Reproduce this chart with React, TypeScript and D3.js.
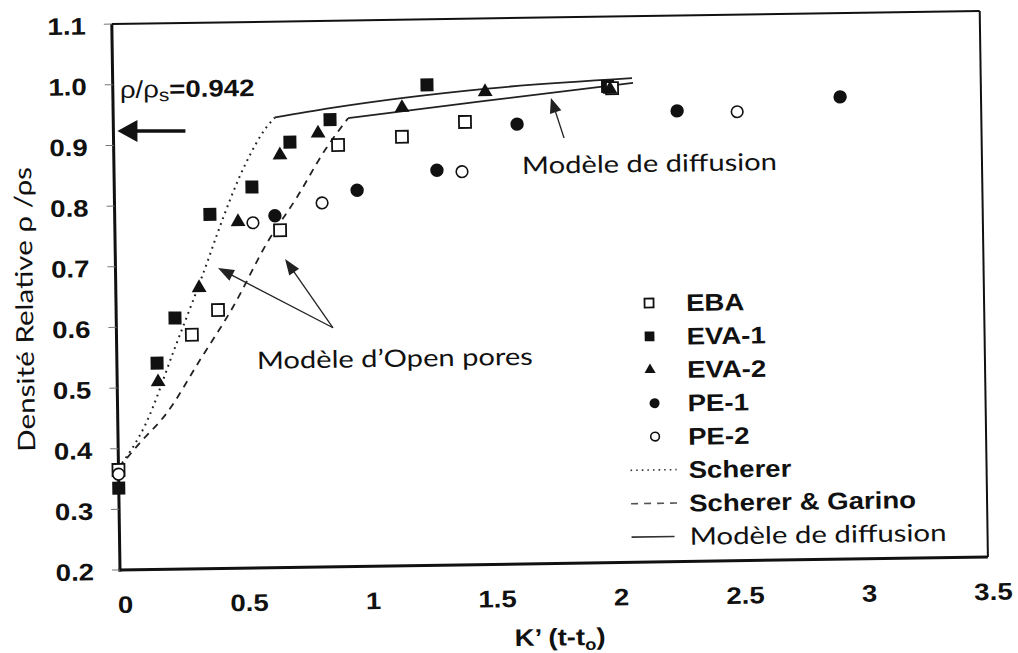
import React from 'react';
import * as d3 from 'd3';

// ---------- data ----------
const ebaX = [0, 0.304, 0.411, 0.666, 0.905, 1.163, 1.418, 2.013];
const ebaY = [0.365, 0.586, 0.626, 0.756, 0.895, 0.907, 0.93, 0.982];

const eva1X = [0, 0.162, 0.237, 0.384, 0.555, 0.711, 0.874, 1.267, 1.995];
const eva1Y = [0.335, 0.54, 0.614, 0.784, 0.828, 0.901, 0.937, 0.992, 0.985];

const eva2X = [0.165, 0.336, 0.497, 0.67, 0.825, 1.165, 1.501, 2.005];
const eva2Y = [0.509, 0.663, 0.771, 0.88, 0.915, 0.955, 0.979, 0.98];

const pe1X = [0.646, 0.979, 1.302, 1.628, 2.274, 2.932];
const pe1Y = [0.78, 0.82, 0.851, 0.925, 0.943, 0.962];

const pe2X = [0, 0.557, 0.837, 1.403, 2.516];
const pe2Y = [0.358, 0.769, 0.8, 0.848, 0.94];

const scherX = [0, 0.11, 0.235, 0.374, 0.411, 0.528, 0.619, 0.652];
const scherY = [0.368, 0.438, 0.565, 0.709, 0.75, 0.864, 0.927, 0.942];

const garinoX = [0, 0.088, 0.199, 0.335, 0.472, 0.612, 0.736, 0.852, 0.947];
const garinoY = [0.368, 0.409, 0.458, 0.544, 0.631, 0.735, 0.81, 0.887, 0.939];

const diff1X = [0.652, 0.875, 1.5, 2.094];
const diff1Y = [0.942, 0.956, 0.984, 0.998];

const diff2X = [0.947, 1.5, 2.098];
const diff2Y = [0.939, 0.964, 0.99];

const xTicks = [0, 0.5, 1, 1.5, 2, 2.5, 3, 3.5];
const xTickLabels = ['0', '0.5', '1', '1.5', '2', '2.5', '3', '3.5'];
const yTicks = [0.2, 0.3, 0.4, 0.5, 0.6, 0.7, 0.8, 0.9, 1.0, 1.1];

const legendLabels = ['EBA', 'EVA-1', 'EVA-2', 'PE-1', 'PE-2', 'Scherer', 'Scherer & Garino', 'Modèle de diffusion'];

// ---------- layout ----------
const W = 1018;
const H = 653;
const L = 120, R = 988, T = 24, B = 570;
const TILT = -0.86; // the scanned figure is slightly rotated
const ARIAL = '"Liberation Sans", Arial, sans-serif';
const CALIBRI = 'Lato, Carlito, Calibri, sans-serif';
const INK = '#111';
const SX = 1.15;

type Pt = [number, number];

function Txt(props: any) {
  const { x, y, sx = SX, children, ...rest } = props;
  return (
    <text transform={`translate(${x},${y}) scale(${sx},1)`} {...rest}>
      {children}
    </text>
  );
}

function Arrow({ from, to, len, hw, sw, color }: { from: Pt; to: Pt; len: number; hw: number; sw: number; color: string }) {
  const dx = to[0] - from[0];
  const dy = to[1] - from[1];
  const d = Math.hypot(dx, dy);
  const ux = dx / d, uy = dy / d;
  const bx = to[0] - ux * len, by = to[1] - uy * len;
  const nx = -uy, ny = ux;
  const pts = [
    [to[0], to[1]],
    [bx + nx * hw, by + ny * hw],
    [bx - nx * hw, by - ny * hw],
  ];
  return (
    <g>
      <line x1={from[0]} y1={from[1]} x2={bx + ux * 1} y2={by + uy * 1} stroke={color} strokeWidth={sw} />
      <polygon points={pts.map((p) => p.join(',')).join(' ')} fill={color} />
    </g>
  );
}

function Marker({ kind, cx, cy, s = 1 }: { kind: string; cx: number; cy: number; s?: number }) {
  if (kind === 'sqOpen') {
    const a = 12 * s;
    return <rect x={cx - a / 2} y={cy - a / 2} width={a} height={a} fill="#fff" stroke={INK} strokeWidth={1.8} />;
  }
  if (kind === 'sqFill') {
    const a = 13 * s;
    return <rect x={cx - a / 2} y={cy - a / 2} width={a} height={a} fill={INK} />;
  }
  if (kind === 'tri') {
    const p = d3.symbol(d3.symbolTriangle, 95 * s * s)();
    return <path d={p || ''} transform={`translate(${cx},${cy})`} fill={INK} />;
  }
  if (kind === 'circFill') {
    return <circle cx={cx} cy={cy} r={6.7 * s} fill={INK} />;
  }
  return <circle cx={cx} cy={cy} r={5.8 * s} fill="#fff" stroke={INK} strokeWidth={1.6} />;
}

export default function App() {
  const x = d3.scaleLinear().domain([0, 3.5]).range([L, R]);
  const y = d3.scaleLinear().domain([0.2, 1.1]).range([B, T]);
  const fmt = d3.format('.1f');

  const line = d3
    .line<[number, number]>()
    .x((d) => x(d[0]))
    .y((d) => y(d[1]))
    .curve(d3.curveMonotoneX);

  const zip = (xs: number[], ys: number[]) => xs.map((v, i) => [v, ys[i]] as [number, number]);

  const series = [
    { kind: 'sqFill', pts: zip(eva1X, eva1Y) },
    { kind: 'sqOpen', pts: zip(ebaX, ebaY) },
    { kind: 'tri', pts: zip(eva2X, eva2Y) },
    { kind: 'circFill', pts: zip(pe1X, pe1Y) },
    { kind: 'circOpen', pts: zip(pe2X, pe2Y) },
  ];

  const legendKinds = ['sqOpen', 'sqFill', 'tri', 'circFill', 'circOpen', 'dot', 'dash', 'solid'];
  const legY0 = 311;
  const legStep = 33.4;

  return (
    <svg
      width={W}
      height={H}
      viewBox={`0 0 ${W} ${H}`}
      style={{ position: 'absolute', left: 0, top: 0, background: '#fff' }}
    >
      <rect x={0} y={0} width={W} height={H} fill="#fff" />
      <g transform={`rotate(${TILT},${L},${B})`}>
        {/* frame */}
        <line x1={L} y1={T} x2={R} y2={T} stroke={INK} strokeWidth={2} />
        <line x1={R} y1={T} x2={R} y2={B} stroke={INK} strokeWidth={2} />
        <line x1={L} y1={T} x2={L} y2={B + 1.5} stroke={INK} strokeWidth={3} />
        <line x1={L - 1.5} y1={B} x2={R} y2={B} stroke={INK} strokeWidth={3} />

        {/* y ticks */}
        {yTicks.map((t) => (
          <g key={'yt' + t}>
            <line x1={L - 8} x2={L} y1={y(t)} y2={y(t)} stroke="#777" strokeWidth={1} />
            <Txt x={94} y={y(t) + 10} textAnchor="end" fontFamily={ARIAL} fontWeight="bold" fontSize={24} fill={INK}>
              {fmt(t)}
            </Txt>
          </g>
        ))}

        {/* x tick labels */}
        {xTicks.map((t, i) => (
          <Txt key={'xt' + t} x={x(t) + 5} y={613} textAnchor="middle" fontFamily={ARIAL} fontWeight="bold" fontSize={24} fill={INK}>
            {xTickLabels[i]}
          </Txt>
        ))}

        {/* axis titles */}
        <Txt x={559} y={652} textAnchor="middle" fontFamily={ARIAL} fontWeight="bold" fontSize={24} fill={INK}>
          <tspan>K’ (t-t</tspan>
          <tspan fontSize={16} dy={5}>o</tspan>
          <tspan dy={-5}>)</tspan>
        </Txt>
        <text
          transform={`translate(37,308) rotate(-90)`}
          textAnchor="middle"
          fontFamily={CALIBRI}
          fontSize={24}
          fill={INK}
          textLength={285}
          lengthAdjust="spacingAndGlyphs"
        >
          Densité Relative ρ /ρs
        </text>

        {/* model curves */}
        <path d={line(zip(scherX, scherY)) || ''} fill="none" stroke="#222" strokeWidth={2} strokeDasharray="1.8 4.5" />
        <path d={line(zip(garinoX, garinoY)) || ''} fill="none" stroke="#222" strokeWidth={1.8} strokeDasharray="7 6" />
        <path d={line(zip(diff1X, diff1Y)) || ''} fill="none" stroke="#222" strokeWidth={1.8} />
        <path d={line(zip(diff2X, diff2Y)) || ''} fill="none" stroke="#222" strokeWidth={1.8} />

        {/* data points */}
        {series.map((s) =>
          s.pts.map((p, i) => <Marker key={s.kind + i} kind={s.kind} cx={x(p[0])} cy={y(p[1])} />)
        )}

        {/* rho / rho_s annotation */}
        <Txt x={127} y={98} fontFamily={ARIAL} fontSize={24} fill={INK}>
          <tspan>ρ/ρ</tspan>
          <tspan fontSize={18} dy={4}>s</tspan>
          <tspan dy={-4} fontWeight="bold">=0.942</tspan>
        </Txt>
        <Arrow from={[192, 132]} to={[124, 131]} len={20} hw={11} sw={3.5} color={INK} />

        {/* diffusion annotation */}
        <text x={528} y={180} fontFamily={CALIBRI} fontSize={24} fill={INK} textLength={255} lengthAdjust="spacingAndGlyphs">
          Modèle de diffusion
        </text>
        <Arrow from={[570.5, 144.7]} to={[558, 104.5]} len={15} hw={6} sw={1.3} color="#222" />

        {/* open pores annotation */}
        <text x={260} y={371} fontFamily={CALIBRI} fontSize={24} fill={INK} textLength={276} lengthAdjust="spacingAndGlyphs">
          Modèle d’Open pores
        </text>
        <Arrow from={[336.6, 331]} to={[222.5, 269.5]} len={16} hw={6} sw={1.3} color="#222" />
        <Arrow from={[336.6, 331]} to={[289.7, 261.5]} len={16} hw={6} sw={1.3} color="#222" />

        {/* legend */}
        {legendLabels.map((lab, i) => {
          const cy = legY0 + i * legStep;
          const k = legendKinds[i];
          let sym: any = null;
          if (k === 'dot') sym = <line x1={632} x2={678} y1={cy} y2={cy} stroke="#333" strokeWidth={1.6} strokeDasharray="1.6 4" />;
          else if (k === 'dash') sym = <line x1={632} x2={678} y1={cy} y2={cy} stroke="#555" strokeWidth={1.6} strokeDasharray="7 6" />;
          else if (k === 'solid') sym = <line x1={632} x2={675} y1={cy} y2={cy} stroke="#333" strokeWidth={1.6} />;
          else sym = <Marker kind={k} cx={k.startsWith('circ') ? 657 : 653} cy={cy} s={0.75} />;
          const last = i === legendLabels.length - 1;
          return (
            <g key={'lg' + i}>
              {sym}
              {last ? (
                <text x={690} y={cy + 8.6} fontFamily={CALIBRI} fontSize={24} fill={INK} textLength={257} lengthAdjust="spacingAndGlyphs">
                  {lab}
                </text>
              ) : (
                <Txt x={690} y={cy + 8.6} fontFamily={ARIAL} fontWeight="bold" fontSize={24} fill={INK}>
                  {lab}
                </Txt>
              )}
            </g>
          );
        })}
      </g>
    </svg>
  );
}
